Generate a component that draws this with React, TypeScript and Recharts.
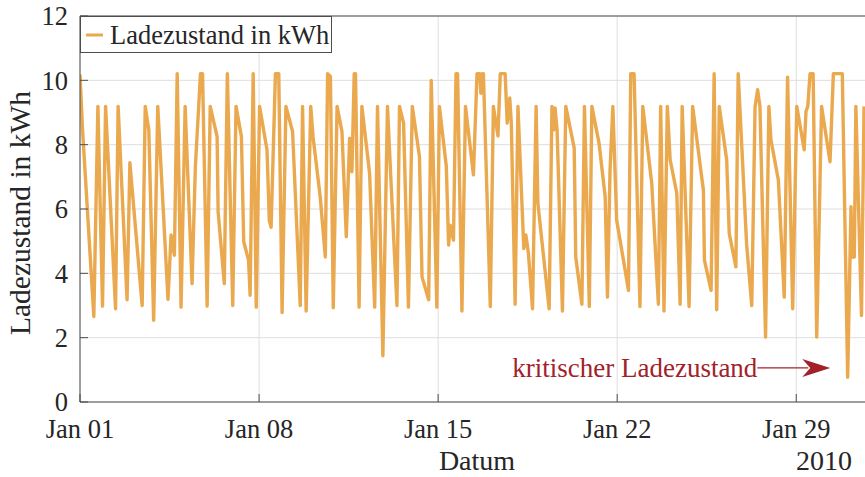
import { LineChart, Line, XAxis, YAxis, CartesianGrid, ReferenceLine, Legend, Label } from "recharts";

// days since Jan 01 2010, 00:00
const days = [
  0.0, 0.1, 0.54, 0.7, 0.88, 1.0, 1.39, 1.49, 1.84, 1.95, 2.43, 2.55, 2.69, 2.88, 3.04, 3.44, 3.56, 3.69, 3.8, 3.95,
  4.11, 4.38, 4.51, 4.71, 4.79, 4.97, 5.09, 5.36, 5.4, 5.64, 5.76, 5.97, 6.1, 6.31, 6.4, 6.59, 6.65, 6.77, 6.89, 7.02,
  7.31, 7.4, 7.47, 7.64, 7.77, 7.9, 8.05, 8.31, 8.61, 8.7, 8.84, 9.02, 9.11, 9.39, 9.59, 9.68, 9.79, 9.9, 10.05, 10.24,
  10.41, 10.54, 10.63, 10.72, 10.77, 10.91, 11.02, 11.32, 11.52, 11.63, 11.84, 12.02, 12.13, 12.39, 12.49, 12.65, 12.84, 12.99, 13.27, 13.37,
  13.63, 13.73, 13.95, 14.05, 14.32, 14.41, 14.47, 14.6, 14.7, 14.76, 14.93, 15.07, 15.38, 15.52, 15.63, 15.67, 15.72, 15.77, 16.04, 16.16,
  16.34, 16.43, 16.62, 16.7, 16.8, 16.86, 17.01, 17.12, 17.35, 17.43, 17.53, 17.69, 17.83, 17.9, 18.34, 18.45, 18.52, 18.57, 18.65, 18.86,
  18.99, 19.32, 19.38, 19.62, 19.72, 19.91, 20.01, 20.29, 20.53, 20.62, 20.72, 20.83, 20.98, 21.31, 21.44, 21.53, 21.66, 21.89, 22.0, 22.35,
  22.61, 22.7, 22.83, 22.96, 23.07, 23.33, 23.46, 23.54, 23.81, 23.95, 24.3, 24.37, 24.41, 24.67, 24.79, 24.89, 24.99, 25.28, 25.38, 25.64,
  25.73, 26.06, 26.26, 26.39, 26.49, 26.58, 26.8, 26.93, 27.01, 27.3, 27.53, 27.66, 27.86, 28.02, 28.31, 28.38, 28.45, 28.54, 28.66, 28.8,
  28.99, 29.32, 29.45, 29.8, 30.01, 30.14, 30.19, 30.27, 30.33, 30.55, 30.65,
];

// Ladezustand in kWh
const soc = [
  10.18, 8.46, 2.66, 9.19, 2.98, 9.19, 2.9, 9.19, 3.18, 7.44, 3.0, 9.19, 8.46, 2.54, 9.19, 3.19, 5.19, 4.56, 10.21, 2.95,
  9.19, 3.68, 7.32, 10.21, 10.21, 2.98, 9.19, 8.25, 5.91, 3.68, 10.21, 3.0, 9.19, 8.25, 4.98, 4.41, 3.32, 10.21, 2.95, 9.19,
  7.84, 5.65, 5.43, 10.21, 10.21, 2.78, 9.19, 8.41, 3.0, 9.19, 2.83, 9.19, 8.25, 6.38, 4.51, 10.21, 10.12, 2.93, 9.19, 8.41,
  5.14, 8.2, 7.16, 10.21, 10.21, 2.95, 9.19, 7.11, 2.95, 9.19, 1.44, 9.19, 7.32, 3.0, 9.19, 8.67, 2.95, 9.19, 7.63, 3.89,
  3.18, 10.0, 2.95, 9.19, 7.32, 4.88, 5.5, 5.03, 10.21, 10.21, 2.83, 9.19, 7.06, 10.21, 10.21, 9.6, 10.21, 10.21, 2.97, 9.19,
  8.27, 10.21, 10.21, 8.67, 9.45, 8.67, 3.04, 9.19, 4.77, 5.19, 4.62, 2.9, 9.19, 6.17, 2.9, 9.19, 8.46, 9.14, 8.46, 2.83,
  9.19, 7.89, 4.51, 3.04, 9.19, 2.97, 9.19, 8.05, 6.38, 3.26, 7.21, 9.19, 5.65, 4.1, 3.47, 10.21, 10.21, 2.97, 9.19, 6.8,
  3.04, 9.19, 2.83, 9.19, 7.53, 6.49, 3.04, 9.19, 2.97, 9.19, 7.01, 6.59, 4.41, 3.47, 10.21, 2.87, 9.19, 7.53, 5.24, 4.2,
  10.21, 4.9, 3.0, 9.19, 9.71, 9.19, 2.02, 9.19, 8.15, 6.9, 3.26, 10.1, 2.9, 9.19, 7.84, 9.03, 9.19, 10.21, 10.21, 2.02,
  9.19, 7.47, 10.21, 10.21, 0.77, 6.07, 4.51, 4.51, 9.19, 2.69, 9.19,
];

const xTicks = [0, 7, 14, 21, 28];
const xTickLabels = ["Jan 01", "Jan 08", "Jan 15", "Jan 22", "Jan 29"];
const yTicks = [0, 2, 4, 6, 8, 10, 12];
const seriesName = "Ladezustand in kWh";
const xTitle = "Datum";
const yearLabel = "2010";
const noteText = "kritischer Ladezustand";
const noteFrom = { x: 26.48, y: 1.06 };
const noteTo = { x: 29.33, y: 1.06 };

const data = days.map((t, i) => ({ t, soc: soc[i] }));

const FONT = "'Liberation Serif', 'Times New Roman', serif";
const LINE = "#eaa94e";
const AXIS = "#4d4d4d";
const TEXT = "#262626";
const NOTE = "#a2222b";

function XTitle({ viewBox }: any) {
  const { x, y } = viewBox;
  return (
    <g fontFamily={FONT} fill={TEXT} fontSize={28}>
      <text x={x + 397} y={y + 68} textAnchor="middle">{xTitle}</text>
      <text x={x + 772} y={y + 68} textAnchor="end">{yearLabel}</text>
    </g>
  );
}

function YTitle({ viewBox }: any) {
  const cx = 30;
  const cy = viewBox.y + viewBox.height / 2 + 4;
  return (
    <text x={cx} y={cy} transform={`rotate(-90, ${cx}, ${cy})`} textAnchor="middle"
      fontFamily={FONT} fontSize={29.5} fill={TEXT}>
      {seriesName}
    </text>
  );
}

function NoteArrow(props: any) {
  const { x1, y1, x2, y2 } = props;
  return (
    <g>
      <text x={x1} y={y1 + 9} textAnchor="end" fontFamily={FONT} fontSize={27} fill={NOTE}>{noteText}</text>
      <line x1={x1} y1={y1} x2={x2 - 22} y2={y2} stroke={NOTE} strokeWidth={1.3} />
      <polygon points={`${x2},${y2} ${x2 - 28},${y2 - 9} ${x2 - 20},${y2} ${x2 - 28},${y2 + 9}`} fill={NOTE} />
    </g>
  );
}

function LegendBox() {
  return (
    <div style={{ boxSizing: "border-box", width: 252, height: 37, border: `1px solid ${AXIS}`, background: "#fff",
      display: "flex", alignItems: "center", fontFamily: FONT, fontSize: 26.5, color: TEXT, lineHeight: "26px" }}>
      <svg width={28} height={20}><line x1={5} y1={10} x2={22} y2={10} stroke={LINE} strokeWidth={3} /></svg>
      <span style={{ marginLeft: 1 }}>{seriesName}</span>
    </div>
  );
}

export default function App() {
  return (
    <div style={{ position: "fixed", left: 0, top: 0, width: 865, height: 477, overflow: "hidden", background: "#fff" }}>
      <LineChart width={873} height={477} data={data} margin={{ top: 16, right: 0, bottom: 0, left: 0 }}>
        <CartesianGrid stroke="#dedede" strokeWidth={1} />
        <XAxis dataKey="t" type="number" domain={[0, 31]} ticks={xTicks} interval={0} allowDataOverflow
          tickFormatter={(v: number) => xTickLabels[xTicks.indexOf(v)]} height={75}
          tick={{ fill: TEXT, fontSize: 26.5, fontFamily: FONT }} tickSize={-8} tickMargin={25}
          axisLine={{ stroke: AXIS }} tickLine={{ stroke: AXIS }}>
          <Label content={XTitle} />
        </XAxis>
        <YAxis type="number" domain={[0, 12]} ticks={yTicks} interval={0} width={80}
          tick={{ fill: TEXT, fontSize: 26.5, fontFamily: FONT }} tickSize={-8} tickMargin={20}
          axisLine={{ stroke: AXIS }} tickLine={{ stroke: AXIS }}>
          <Label content={YTitle} />
        </YAxis>
        <ReferenceLine y={12} stroke={AXIS} strokeWidth={1} />
        <Line dataKey="soc" name={seriesName} type="linear" stroke={LINE} strokeWidth={3.4} strokeLinejoin="round"
          dot={false} activeDot={false} isAnimationActive={false} />
        <ReferenceLine segment={[noteFrom, noteTo]} shape={NoteArrow} />
        <Legend layout="vertical" align="center" verticalAlign="middle" content={LegendBox}
          wrapperStyle={{ left: 80, top: 16, width: 252, height: 37 }} />
      </LineChart>
    </div>
  );
}
